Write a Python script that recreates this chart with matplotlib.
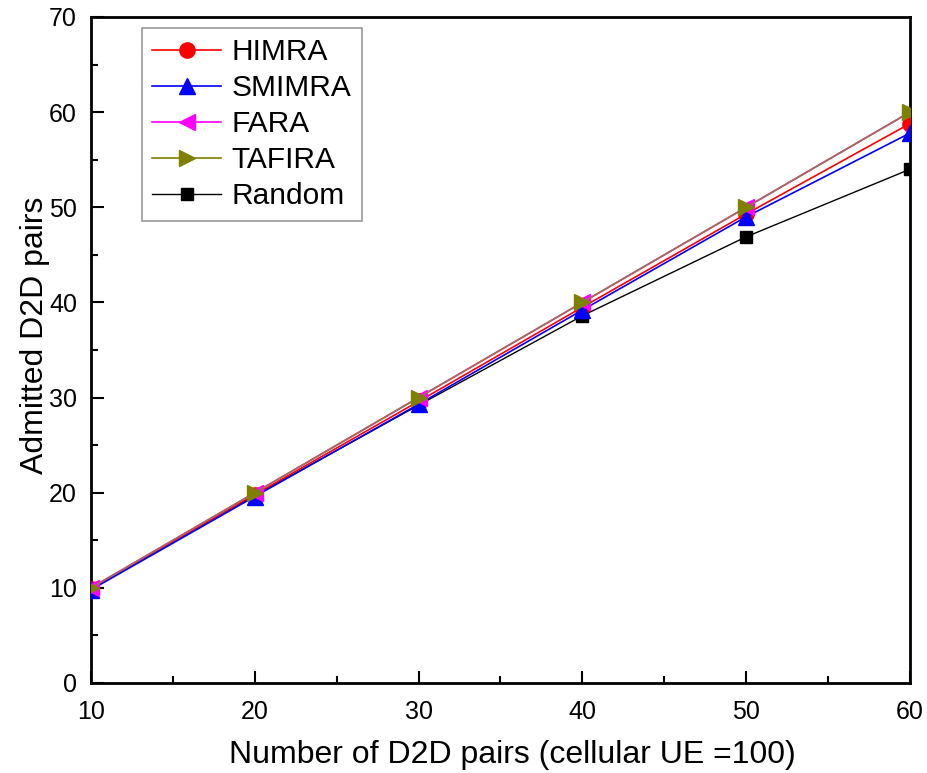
import matplotlib
matplotlib.use('Agg')
import matplotlib.pyplot as plt
from matplotlib.ticker import MultipleLocator

plt.rcParams['font.family'] = ['Liberation Sans', 'DejaVu Sans']

pairs = [10, 20, 30, 40, 50, 60]
himra = [9.9, 19.8, 29.6, 39.5, 49.3, 58.8]
smimra = [9.8, 19.6, 29.3, 39.2, 49.0, 57.8]
fara = [10, 20, 30, 40, 50, 60]
tafira = [10, 20, 30, 40, 50, 60]
random_alloc = [10, 19.7, 29.2, 38.6, 46.9, 54.0]

fig = plt.figure(figsize=(9.27, 7.73), dpi=100)
ax = fig.add_axes([91 / 927, 90 / 773, 819 / 927, 666 / 773])

ax.plot(pairs, random_alloc, color='black', lw=1.0, marker='s', ms=9, label='Random', zorder=2)
ax.plot(pairs, himra, color='red', lw=1.2, marker='o', ms=11, label='HIMRA', zorder=3)
ax.plot(pairs, smimra, color='blue', lw=1.2, marker='^', ms=12, label='SMIMRA', zorder=4)
ax.plot(pairs, fara, color='magenta', lw=1.2, marker='<', ms=12, label='FARA', zorder=5)
ax.plot(pairs, tafira, color='#a0704a', lw=1.2, marker='>', ms=12,
        mfc='olive', mec='olive', label='TAFIRA', zorder=6)

ax.set_xlim(10, 60)
ax.set_ylim(0, 70)
ax.xaxis.set_major_locator(MultipleLocator(10))
ax.xaxis.set_minor_locator(MultipleLocator(5))
ax.yaxis.set_major_locator(MultipleLocator(10))
ax.yaxis.set_minor_locator(MultipleLocator(5))
ax.tick_params(which='both', direction='in', top=False, right=False,
               labelsize=18, width=1.5)
ax.tick_params(axis='x', pad=12)
ax.tick_params(axis='y', pad=10)
ax.tick_params(which='major', length=9)
ax.tick_params(which='minor', length=5)
for s in ax.spines.values():
    s.set_linewidth(2)

ax.set_xlabel('Number of D2D pairs (cellular UE =100)', fontsize=23)
ax.set_ylabel('Admitted D2D pairs', fontsize=23)
ax.xaxis.set_label_coords(0.514, -0.085)
ax.yaxis.set_label_coords(-0.05, 0.5225)

# legend order as in the original figure
order = ['HIMRA', 'SMIMRA', 'FARA', 'TAFIRA', 'Random']
handles, labels = ax.get_legend_handles_labels()
hmap = dict(zip(labels, handles))
hmap['TAFIRA'] = plt.Line2D([], [], color='olive', lw=1.2, marker='>', ms=12)
leg = ax.legend([hmap[k] for k in order], order, loc='upper left',
                bbox_to_anchor=(0.062, 0.984), borderaxespad=0,
                fontsize=21.5, frameon=True, fancybox=False, handlelength=2.3,
                borderpad=0.35, labelspacing=0.27, handletextpad=0.35)
leg.get_frame().set_edgecolor('gray')
leg.get_frame().set_linewidth(1.2)

fig.savefig('out.png', dpi=100)
